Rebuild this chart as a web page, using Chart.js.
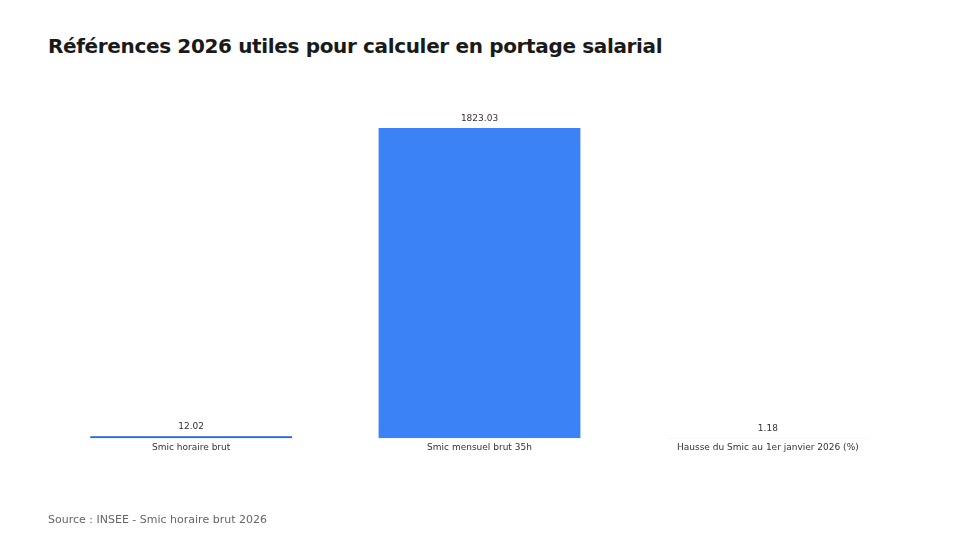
<!DOCTYPE html>
<html lang="fr">
<head>
<meta charset="utf-8">
<script src="https://cdn.jsdelivr.net/npm/chart.js@4/dist/chart.umd.min.js"></script>
<style>
  html, body { margin: 0; padding: 0; background: #fff; }
  body { width: 960px; height: 540px; position: relative; overflow: hidden; font-family: "DejaVu Sans", sans-serif; }
  #title { position: absolute; left: 48px; top: 34px; font-size: 20px; font-weight: bold; color: #1a1a1a; white-space: nowrap; letter-spacing: -0.35px; }
  #source { position: absolute; left: 48px; top: 513px; font-size: 11px; color: #666; white-space: nowrap; }
  #wrap { position: absolute; left: 0; top: 0; width: 960px; height: 540px; }
</style>
</head>
<body>
<div id="title">Références 2026 utiles pour calculer en portage salarial</div>
<div id="wrap"><canvas id="chart"></canvas></div>
<div id="source">Source : INSEE - Smic horaire brut 2026</div>
<script>
  // ---- data ----
  const categories = ["Smic horaire brut", "Smic mensuel brut 35h", "Hausse du Smic au 1er janvier 2026 (%)"];
  const values = [12.02, 1823.03, 1.18];
  const barColors = ["#2563eb", "#3b82f6", "#60a5fa"];

  // value labels above bars
  const valueLabels = {
    id: "valueLabels",
    afterDatasetsDraw(chart) {
      const ctx = chart.ctx;
      const meta = chart.getDatasetMeta(0);
      ctx.save();
      ctx.font = "9px 'DejaVu Sans', sans-serif";
      ctx.fillStyle = "#333";
      ctx.textAlign = "center";
      ctx.textBaseline = "bottom";
      meta.data.forEach((bar, i) => {
        ctx.fillText(values[i].toFixed(2), bar.x, bar.y - 5);
      });
      ctx.restore();
    }
  };

  new Chart(document.getElementById("chart"), {
    type: "bar",
    data: {
      labels: categories,
      datasets: [{
        data: values,
        backgroundColor: barColors,
        borderWidth: 0,
        barPercentage: 0.7,
        categoryPercentage: 1
      }]
    },
    options: {
      responsive: true,
      maintainAspectRatio: false,
      animation: false,
      layout: { padding: { left: 47, right: 48, top: 128, bottom: 83 } },
      plugins: {
        legend: { display: false },
        tooltip: { enabled: false }
      },
      scales: {
        x: {
          grid: { display: false, drawTicks: false },
          border: { display: false },
          ticks: { color: "#333", font: { family: "'DejaVu Sans', sans-serif", size: 9 }, padding: 4, maxRotation: 0 }
        },
        y: {
          display: false,
          beginAtZero: true,
          max: 1823.03
        }
      }
    },
    plugins: [valueLabels]
  });
</script>
</body>
</html>
